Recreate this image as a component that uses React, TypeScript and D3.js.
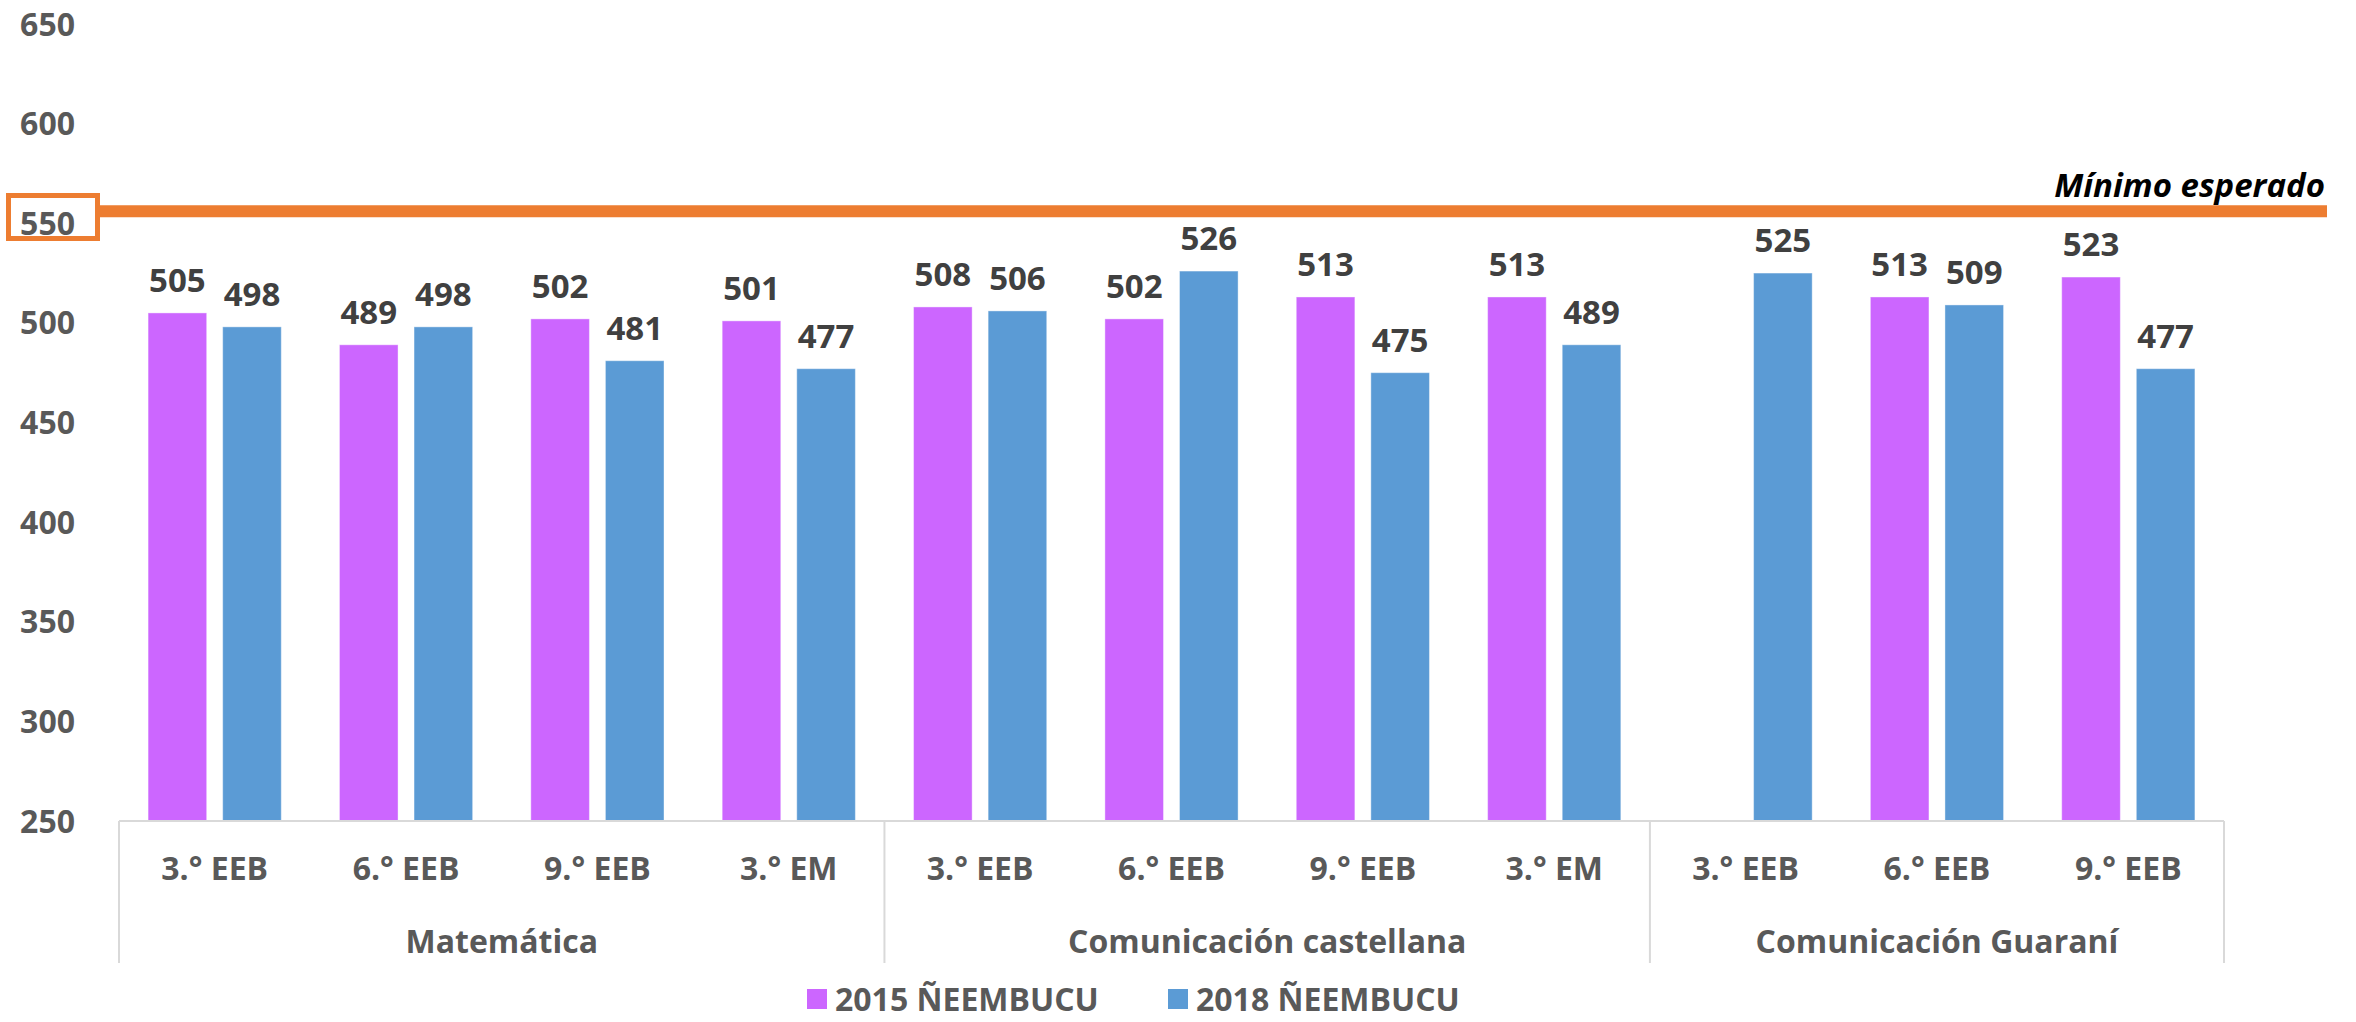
import React from 'react';
import * as d3 from 'd3';

// categories (grade level) and the subject group each belongs to
const grades = ['3.° EEB', '6.° EEB', '9.° EEB', '3.° EM', '3.° EEB', '6.° EEB', '9.° EEB', '3.° EM', '3.° EEB', '6.° EEB', '9.° EEB'];
const subjects = ['Matemática', 'Comunicación castellana', 'Comunicación Guaraní'];
const subjectOf = [0, 0, 0, 0, 1, 1, 1, 1, 2, 2, 2];

const seriesNames = ['2015 ÑEEMBUCU', '2018 ÑEEMBUCU'];
const values2015: (number | null)[] = [505, 489, 502, 501, 508, 502, 513, 513, null, 513, 523];
const values2018: (number | null)[] = [498, 498, 481, 477, 506, 526, 475, 489, 525, 509, 477];
const yTicks = [250, 300, 350, 400, 450, 500, 550, 600, 650];
const minimoEsperado = 556;

const colors = ['#CC66FF', '#5B9BD5'];
const W = 2356;
const H = 1022;
const font = '"Open Sans", sans-serif';

const App = () => {
  const left = 119;
  const right = 2224;
  const baseY = 821;

  const y = d3.scaleLinear().domain([250, 650]).range([baseY, 24]);
  const x = d3.scaleBand<number>()
    .domain(grades.map((_, i) => i))
    .range([left, right]);
  const bw = x.bandwidth();

  // bars sit in the middle of each category, ~100% gap width
  const pairW = bw * 0.696;
  const inner = d3.scaleBand<string>()
    .domain(seriesNames)
    .range([(bw - pairW) / 2, (bw + pairW) / 2])
    .paddingInner(0.2145);

  const series = [values2015, values2018];

  // group boundaries
  const bounds: number[] = [left];
  subjects.forEach((_, g) => {
    const idx = subjectOf.map((s, i) => (s === g ? i : -1)).filter((i) => i >= 0);
    bounds.push((x(idx[idx.length - 1]) as number) + bw);
  });

  const lineY = y(minimoEsperado);
  const tickColor = '#595959';

  return (
    <svg width={W} height={H} style={{ position: 'absolute', left: 0, top: 0, background: '#fff' }} fontFamily={font}>
      {/* y axis labels */}
      {yTicks.map((t) => (
        <text key={t} x={75} y={y(t)} dy="0.36em" textAnchor="end" fontSize={32} fontWeight={700} fill={tickColor}>
          {t}
        </text>
      ))}

      {/* bars */}
      {series.map((vals, si) =>
        vals.map((v, i) => {
          if (v == null) return null;
          const bx = (x(i) as number) + (inner(seriesNames[si]) as number);
          const w = inner.bandwidth();
          return (
            <g key={`${si}-${i}`}>
              <rect x={bx} y={y(v)} width={w} height={baseY - y(v)} fill={colors[si]} stroke="#ffffff" strokeOpacity={0.4} strokeWidth={1} />
              <text x={bx + w / 2} y={y(v) - 21} textAnchor="middle" fontSize={33} fontWeight={700} fill="#404040">
                {v}
              </text>
            </g>
          );
        })
      )}

      {/* x axis */}
      <line x1={left} x2={right} y1={baseY} y2={baseY} stroke="#D9D9D9" strokeWidth={2} />
      {bounds.map((bx, i) => (
        <line key={i} x1={bx} x2={bx} y1={baseY} y2={963} stroke="#D9D9D9" strokeWidth={2} />
      ))}
      {grades.map((g, i) => (
        <text key={i} x={(x(i) as number) + bw / 2} y={868} dy="0.36em" textAnchor="middle" fontSize={32} fontWeight={700} fill={tickColor}>
          {g}
        </text>
      ))}
      {subjects.map((s, gi) => (
        <text key={s} x={(bounds[gi] + bounds[gi + 1]) / 2} y={941} dy="0.36em" textAnchor="middle" fontSize={32} fontWeight={700} fill={tickColor}>
          {s}
        </text>
      ))}

      {/* minimum expected line */}
      <line x1={100} x2={2327} y1={lineY} y2={lineY} stroke="#ED7D31" strokeWidth={12} />
      <rect x={8.5} y={195.5} width={89} height={43} fill="none" stroke="#ED7D31" strokeWidth={5} />
      <text x={2325} y={197} textAnchor="end" fontSize={33} fontWeight={700} fontStyle="italic" fill="#000">
        Mínimo esperado
      </text>

      {/* legend */}
      {seriesNames.map((n, i) => {
        const lx = i === 0 ? 807 : 1168;
        return (
          <g key={n}>
            <rect x={lx} y={989} width={20} height={20} fill={colors[i]} />
            <text x={lx + 28} y={999} dy="0.36em" fontSize={32} fontWeight={700} fill={tickColor}>
              {n}
            </text>
          </g>
        );
      })}
    </svg>
  );
};

export default App;
